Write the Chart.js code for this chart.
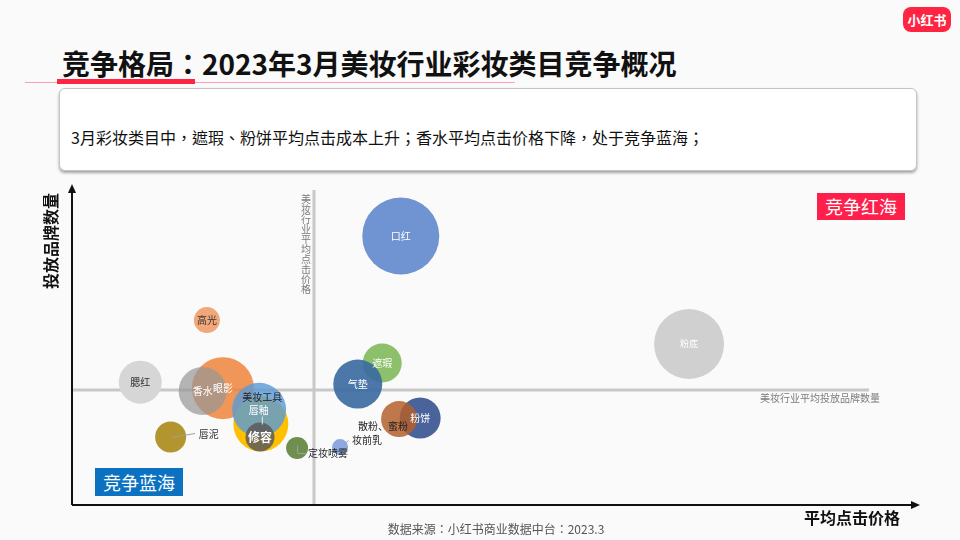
<!DOCTYPE html>
<html lang="zh-CN">
<head>
<meta charset="utf-8">
<title>竞争格局</title>
<script src="https://cdn.jsdelivr.net/npm/chart.js@4/dist/chart.umd.min.js"></script>
<style>
  html, body { margin: 0; padding: 0; }
  body {
    width: 960px; height: 540px; position: relative; overflow: hidden;
    background: #fafafa;
    font-family: "Noto Sans CJK SC", "Noto Sans", sans-serif;
  }
  .abs { position: absolute; white-space: nowrap; }
  .tc { font-family: "Noto Sans CJK TC", "Noto Sans CJK SC", sans-serif; }
  #logo {
    left: 903px; top: 7px; width: 48px; height: 25px; border-radius: 8px;
    background: #ff2442; color: #fff; font-weight: bold; font-size: 13px;
    line-height: 25px; text-align: center;
  }
  #title { left: 62px; top: 44px; font-size: 28px; font-weight: bold; color: #111; line-height: 38px; }
  #underThin { left: 25px; top: 82px; width: 490px; height: 1px; background: #f5a3b2; }
  #underBar { left: 57px; top: 79px; width: 138px; height: 5px; background: #ff2442; }
  #summary {
    left: 59px; top: 88px; width: 858px; height: 83px; box-sizing: border-box;
    background: #fff; border: 1px solid #c4c4c4; border-radius: 6px;
    box-shadow: 0 2px 3px rgba(0,0,0,0.35);
  }
  #summaryText { left: 71px; top: 126px; font-size: 16px; color: #111; line-height: 22px; }
  #chartWrap { left: 0; top: 0; width: 960px; height: 540px; }
  .quad { font-size: 18px; color: #fff; text-align: center; line-height: 27px; }
  #redSea { left: 817px; top: 193px; width: 88px; height: 27px; background: #ff1f4b; }
  #blueSea { left: 95px; top: 468px; width: 88px; height: 28px; line-height: 28px; background: #0b72c2; }
  #yTitle {
    left: 2px; top: 230px; width: 96px; font-size: 16px; font-weight: bold; color: #111;
    text-align: center; transform: rotate(-90deg); line-height: 22px;
  }
  #xTitle { left: 804px; top: 505px; font-size: 16px; font-weight: bold; color: #111; line-height: 24px; }
  #source { left: 0; width: 992px; top: 520px; text-align: center; font-size: 12px; color: #555; line-height: 18px; }
</style>
</head>
<body>
<div id="logo" class="abs">小红书</div>
<div id="title" class="abs tc" lang="zh-TW">竞争格局：2023年3月美妆行业彩妆类目竞争概况</div>
<div id="underThin" class="abs"></div>
<div id="underBar" class="abs"></div>
<div id="summary" class="abs"></div>
<div id="summaryText" class="abs tc" lang="zh-TW">3月彩妆类目中，遮瑕、粉饼平均点击成本上升；香水平均点击价格下降，处于竞争蓝海；</div>
<div id="chartWrap" class="abs"><canvas id="bubbleChart" width="960" height="540"></canvas></div>
<div id="redSea" class="abs quad">竞争红海</div>
<div id="blueSea" class="abs quad">竞争蓝海</div>
<div id="yTitle" class="abs">投放品牌数量</div>
<div id="xTitle" class="abs">平均点击价格</div>
<div id="source" class="abs tc" lang="zh-TW">数据来源：小红书商业数据中台：2023.3</div>

<script>
'use strict';

// 类目与数值（横轴：平均点击价格，纵轴：投放品牌数量，气泡大小：相对规模）
const categories = ['粉底', '口红', '高光', '腮红', '眼影', '香水', '唇釉', '美妆工具',
  '修容', '唇泥', '定妆喷雾', '妆前乳', '遮瑕', '气垫', '粉饼', '散粉、蜜粉'];
const clickPrice = [73.2, 39.0, 16.0, 8.1, 17.9, 15.5, 22.4, 22.2,
  22.3, 11.7, 26.7, 31.8, 36.8, 33.9, 41.3, 38.8];
const brandCount = [51.1, 85.4, 58.7, 39.0, 37.1, 36.2, 25.7, 30.2,
  21.6, 21.6, 18.1, 18.4, 45.1, 38.4, 27.6, 27.3];
const bubbleSize = [35, 38.5, 13, 21.5, 31, 24, 27.5, 27,
  14.5, 15.5, 11, 8, 19.5, 24.5, 20.5, 18];
const avgClickPrice = 28.7;
const avgBrandCount = 36.5;

const bubbleColors = {
  '粉底': '#d0d0d0',
  '口红': 'rgb(112,148,210)',
  '高光': '#f2a77a',
  '腮红': '#d6d6d6',
  '眼影': 'rgba(237,125,49,0.8)',
  '香水': 'rgba(150,150,150,0.7)',
  '唇釉': '#ffc000',
  '美妆工具': 'rgba(91,155,213,0.82)',
  '修容': 'rgba(90,90,90,0.85)',
  '唇泥': '#b39530',
  '定妆喷雾': '#6f8f4f',
  '妆前乳': '#8ea9e0',
  '遮瑕': '#8cc06a',
  '气垫': 'rgba(55,105,160,0.9)',
  '粉饼': '#4a639b',
  '散粉、蜜粉': 'rgba(180,95,45,0.85)'
};

// 标签样式：偏移、颜色、引线
const labelStyles = {
  '粉底': { color: '#fff', size: 9 },
  '口红': { color: '#fff', size: 10 },
  '高光': { color: '#333', size: 10 },
  '腮红': { color: '#333', size: 10 },
  '眼影': { color: '#fff', size: 10 },
  '香水': { color: '#fff', size: 10 },
  '唇釉': { color: '#fff', size: 10, dx: -2, dy: -14, leader: [[1, -8], [1, 0]] },
  '美妆工具': { color: '#222', size: 10, dx: 3, dy: -13 },
  '修容': { color: '#fff', size: 12, bold: true },
  '唇泥': { color: '#333', size: 10, dx: 28, dy: -3, align: 'left', leader: [[1, 0], [24, -4]] },
  '定妆喷雾': { color: '#222', size: 10, dx: 11, dy: 5, align: 'left', leader: [[0, -3], [0, 5], [8, 5]] },
  '妆前乳': { color: '#222', size: 10, dx: 12, dy: -7, align: 'left', leader: [[2, -2], [8, -7]] },
  '遮瑕': { color: '#fff', size: 10 },
  '气垫': { color: '#fff', size: 10 },
  '粉饼': { color: '#fff', size: 10 },
  '散粉、蜜粉': { color: '#222', size: 10, dx: -16, dy: 7 }
};

const FONT = '"Noto Sans CJK SC", "Noto Sans", sans-serif';

const backgroundPlugin = {
  id: 'quadrantLines',
  beforeDatasetsDraw: function (chart) {
    const ctx = chart.ctx;
    const area = chart.chartArea;
    const xScale = chart.scales.x;
    const yScale = chart.scales.y;
    const vx = Math.round(xScale.getPixelForValue(avgClickPrice));
    const hy = Math.round(yScale.getPixelForValue(avgBrandCount));

    ctx.save();
    ctx.strokeStyle = '#c8c8c8';
    ctx.lineWidth = 3;
    ctx.beginPath();
    ctx.moveTo(vx, area.top);
    ctx.lineTo(vx, area.bottom);
    ctx.moveTo(area.left, hy);
    ctx.lineTo(869, hy);
    ctx.stroke();

    ctx.fillStyle = '#7a7a7a';
    ctx.font = '10px ' + FONT;
    ctx.textAlign = 'right';
    ctx.textBaseline = 'middle';
    ctx.fillText('美妆行业平均投放品牌数量', 880, hy + 8);

    const vLabel = '美妆行业平均点击价格';
    ctx.textAlign = 'center';
    for (let i = 0; i < vLabel.length; i++) {
      ctx.fillText(vLabel[i], vx - 8, area.top + 9 + i * 10);
    }

    // 坐标轴与箭头
    ctx.strokeStyle = '#111';
    ctx.fillStyle = '#111';
    ctx.lineWidth = 2;
    ctx.beginPath();
    ctx.moveTo(area.left, area.bottom);
    ctx.lineTo(area.left, area.top - 2);
    ctx.moveTo(area.left, area.bottom);
    ctx.lineTo(area.right + 1, area.bottom);
    ctx.stroke();
    ctx.beginPath();
    ctx.moveTo(area.left, area.top - 6);
    ctx.lineTo(area.left - 4, area.top + 3);
    ctx.lineTo(area.left + 4, area.top + 3);
    ctx.closePath();
    ctx.fill();
    ctx.beginPath();
    ctx.moveTo(area.right + 5, area.bottom);
    ctx.lineTo(area.right - 4, area.bottom - 4);
    ctx.lineTo(area.right - 4, area.bottom + 4);
    ctx.closePath();
    ctx.fill();
    ctx.restore();
  }
};

const labelPlugin = {
  id: 'bubbleLabels',
  afterDatasetsDraw: function (chart) {
    const ctx = chart.ctx;
    const meta = chart.getDatasetMeta(0);
    ctx.save();
    meta.data.forEach(function (point, i) {
      const style = labelStyles[categories[i]] || {};
      const cx = point.x;
      const cy = point.y;
      if (style.leader) {
        ctx.strokeStyle = style.color === '#fff' ? 'rgba(255,255,255,0.8)' : '#a0a0a0';
        ctx.lineWidth = 1;
        ctx.beginPath();
        style.leader.forEach(function (p, j) {
          if (j === 0) ctx.moveTo(cx + p[0] + 0.5, cy + p[1] + 0.5);
          else ctx.lineTo(cx + p[0] + 0.5, cy + p[1] + 0.5);
        });
        ctx.stroke();
      }
      ctx.fillStyle = style.color || '#fff';
      ctx.font = (style.bold ? 'bold ' : '') + (style.size || 10) + 'px ' + FONT;
      ctx.textAlign = style.align || 'center';
      ctx.textBaseline = 'middle';
      ctx.fillText(categories[i], cx + (style.dx || 0), cy + (style.dy || 0));
    });
    ctx.restore();
  }
};

new Chart(document.getElementById('bubbleChart'), {
  type: 'bubble',
  data: {
    datasets: [{
      label: '彩妆类目',
      data: categories.map(function (name, i) {
        return { x: clickPrice[i], y: brandCount[i], r: bubbleSize[i] };
      }),
      backgroundColor: categories.map(function (name) { return bubbleColors[name]; }),
      borderWidth: 0,
      clip: false
    }]
  },
  options: {
    responsive: false,
    animation: false,
    events: [],
    layout: { autoPadding: false, padding: { left: 72, top: 190, right: 45, bottom: 35 } },
    scales: {
      x: { type: 'linear', min: 0, max: 100, display: false },
      y: { type: 'linear', min: 0, max: 100, display: false }
    },
    plugins: {
      legend: { display: false },
      tooltip: { enabled: false }
    }
  },
  plugins: [backgroundPlugin, labelPlugin]
});
</script>
</body>
</html>
